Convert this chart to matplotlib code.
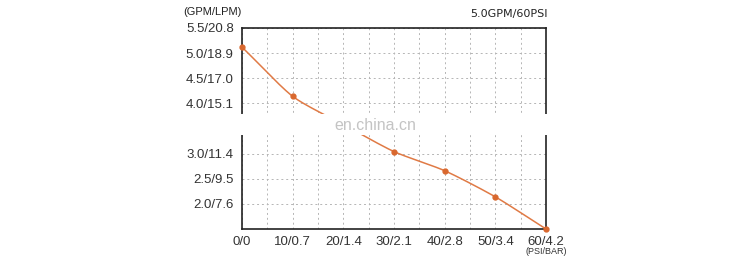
import numpy as np
import matplotlib
matplotlib.use("Agg")
import matplotlib.pyplot as plt
from matplotlib.patches import Rectangle

# Data
pressure_psi = [0, 10, 20, 30, 40, 50, 60]
flow_gpm = [5.12, 4.14, 3.58, 3.04, 2.66, 2.14, 1.5]
x_tick_vals = [0, 10, 20, 30, 40, 50, 60]
x_tick_labels = ["0/0", "10/0.7", "20/1.4", "30/2.1", "40/2.8", "50/3.4", "60/4.2"]
y_tick_vals = [2.0, 2.5, 3.0, 3.5, 4.0, 4.5, 5.0, 5.5]
y_tick_labels = ["2.0/7.6", "2.5/9.5", "3.0/11.4", "3.5/13.2", "4.0/15.1",
                 "4.5/17.0", "5.0/18.9", "5.5/20.8"]

plt.rcParams['font.family'] = ['Liberation Sans', 'DejaVu Sans']

fig = plt.figure(figsize=(7.5, 2.64), dpi=100)
ax = fig.add_axes([242/750, 1-229/264, (546-242)/750, (229-28)/264])

line_c = '#E07A45'
# smooth curve through the data (cardinal spline, reduced tension)
x = np.array(pressure_psi, float)
y = np.array(flow_gpm, float)
k = 0.35
sx, sy = [], []
n = len(x)
def tang(a, i):
    if i == 0:
        return a[1] - a[0]
    if i == n - 1:
        return a[-1] - a[-2]
    return (a[i+1] - a[i-1]) / 2
t = np.linspace(0, 1, 30)
h00 = 2*t**3 - 3*t**2 + 1
h10 = t**3 - 2*t**2 + t
h01 = -2*t**3 + 3*t**2
h11 = t**3 - t**2
for i in range(n - 1):
    for a, out in ((x, sx), (y, sy)):
        m0 = tang(a, i) * (2*k) if 0 < i else tang(a, i)
        m1 = tang(a, i+1) * (2*k) if i+1 < n-1 else tang(a, i+1)
        out.extend(h00*a[i] + h10*m0 + h01*a[i+1] + h11*m1)
ax.plot(sx, sy, color=line_c, lw=1.1, zorder=3, clip_on=False)
ax.plot(x, y, 'o', color='#D9682E', ms=3.5, zorder=4, clip_on=False)

ax.set_xlim(0, 60)
ax.set_ylim(1.5, 5.5)
ax.set_xticks(x_tick_vals)
ax.set_xticklabels(x_tick_labels)
ax.set_xticks(np.arange(5, 60, 10), minor=True)
ax.set_yticks(y_tick_vals)
ax.set_yticklabels(y_tick_labels)
ax.tick_params(axis='both', which='both', length=0, labelsize=9.5, colors='#333333')
ax.tick_params(axis='x', pad=5)
ax.tick_params(axis='y', pad=6)
ax.grid(True, which='both', color='#B5B5B5', ls=(0, (2, 3)), lw=0.7)
for s in ax.spines.values():
    s.set_color('#222222')
    s.set_linewidth(1.2)

fig.text(183/750, 1-12/264, "(GPM/LPM)", fontsize=8, color='#222222', ha='left', va='center')
fig.text(548/750, 1-14/264, "5.0GPM/60PSI", fontsize=8, color='#222222', ha='right', va='center',
         family=['DejaVu Sans'])
fig.text(546/750, 1-251/264, "(PSI/BAR)", fontsize=6.5, color='#333333', ha='center', va='center')

# watermark band
band = Rectangle((0, 1-135/264), 1, 21/264, transform=fig.transFigure,
                 facecolor='white', edgecolor='none', zorder=10)
fig.add_artist(band)
fig.text(375/750, 1-126/264, "en.china.cn", fontsize=11.5, color='#C4C4C4',
         ha='center', va='center', zorder=11)

fig.savefig("out.png", dpi=100, facecolor='white')
